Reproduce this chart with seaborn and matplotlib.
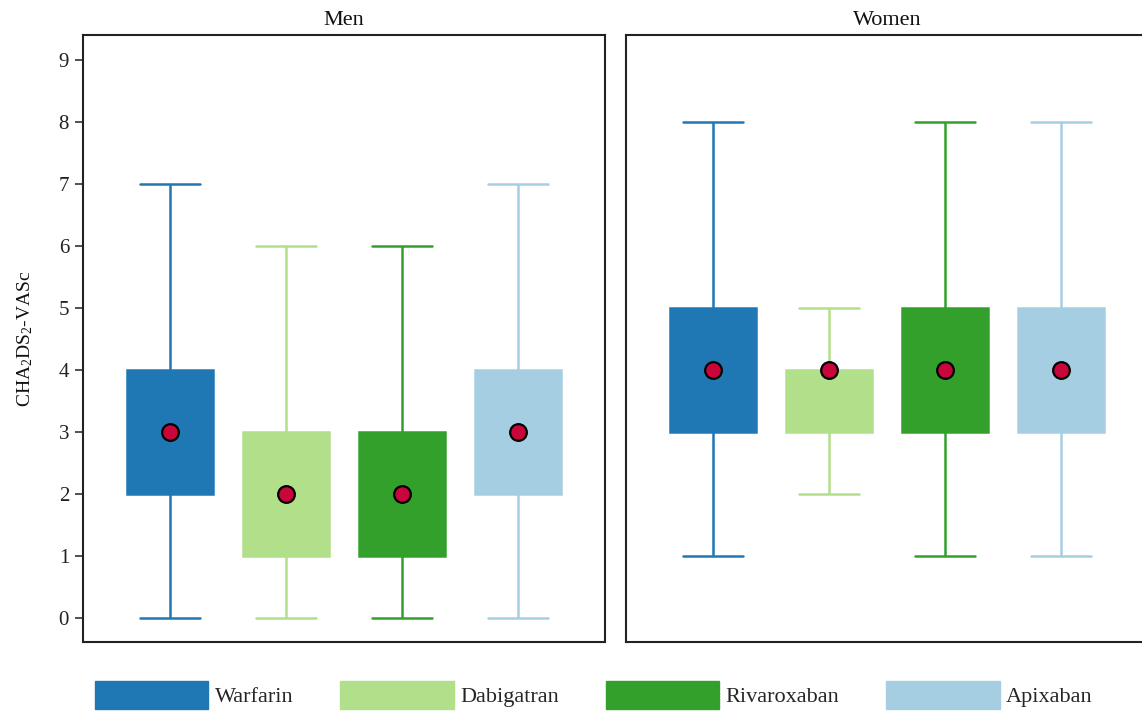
import numpy as np
import pandas as pd
import matplotlib
matplotlib.use("Agg")
import matplotlib.pyplot as plt
from matplotlib.patches import Patch
import seaborn as sns

# Five-number summaries (min, Q1, median, Q3, max) of CHA2DS2-VASc per drug
drugs = ["Warfarin", "Dabigatran", "Rivaroxaban", "Apixaban"]
men_summary = {
    "Warfarin":    [0, 2, 3, 4, 7],
    "Dabigatran":  [0, 1, 2, 3, 6],
    "Rivaroxaban": [0, 1, 2, 3, 6],
    "Apixaban":    [0, 2, 3, 4, 7],
}
women_summary = {
    "Warfarin":    [1, 3, 4, 5, 8],
    "Dabigatran":  [2, 3, 4, 4, 5],
    "Rivaroxaban": [1, 3, 4, 5, 8],
    "Apixaban":    [1, 3, 4, 5, 8],
}
panels = ["Men", "Women"]
yticks = list(range(0, 10))
colors = ["#1f78b4", "#b2df8a", "#33a02c", "#a6cee3"]
median_color = "#c8063a"

rows = []
for sex, summ in zip(panels, [men_summary, women_summary]):
    for drug in drugs:
        for v in summ[drug]:
            rows.append({"sex": sex, "drug": drug, "value": v})
df = pd.DataFrame(rows)

sns.set_theme(style="white")
plt.rcParams["font.family"] = ["Liberation Serif", "DejaVu Serif"]
plt.rcParams["mathtext.fontset"] = "custom"
plt.rcParams["mathtext.rm"] = "Liberation Serif"
plt.rcParams["mathtext.it"] = "Liberation Serif:italic"

W, H = 1142, 711
fig = plt.figure(figsize=(W / 100, H / 100), dpi=100)
ax_men = fig.add_axes([83 / W, (H - 642) / H, 522 / W, 607 / H])
ax_women = fig.add_axes([626 / W, (H - 642) / H, 522 / W, 607 / H])

CAP_HALF = 0.26

for ax, sex in zip([ax_men, ax_women], panels):
    sub = df[df["sex"] == sex]
    for drug, c in zip(drugs, colors):
        sns.boxplot(
            data=sub[sub["drug"] == drug], x="drug", y="value", order=drugs,
            color=c, linecolor=c, saturation=1, width=0.74, whis=(0, 100),
            showfliers=False, linewidth=1.8,
            medianprops={"visible": False}, ax=ax,
        )
    # widen the whisker caps
    for ln in ax.lines:
        xd, yd = np.asarray(ln.get_xdata(), float), np.asarray(ln.get_ydata(), float)
        if len(xd) == 2 and yd[0] == yd[1] and xd[0] != xd[1]:
            cx = xd.mean()
            ln.set_xdata([cx - CAP_HALF, cx + CAP_HALF])
    sns.pointplot(
        data=sub, x="drug", y="value", order=drugs, estimator="median",
        errorbar=None, linestyle="none", marker="o", color=median_color,
        markersize=12, markeredgecolor="black", markeredgewidth=1.6, ax=ax,
        zorder=5,
    )
    ax.set_xlim(-0.75, 3.75)
    ax.set_ylim(-0.39, 9.4)
    ax.set_xlabel("")
    ax.set_ylabel("")
    ax.set_xticks([])
    ax.set_title(sex, fontsize=16, pad=7, color="#111111")
    for s in ax.spines.values():
        s.set_visible(True)
        s.set_color("#222222")
        s.set_linewidth(1.5)

ax_men.set_yticks(yticks)
ax_men.tick_params(axis="y", left=True, length=6, width=1.2, color="#333333",
                   labelsize=15, labelcolor="#222222", pad=4)
ax_women.set_yticks([])
ax_men.set_ylabel(r"CHA$_2$DS$_2$-VASc", fontsize=14, color="#111111", labelpad=17)

handles = [Patch(facecolor=c, edgecolor=c) for c in colors]
fig.legend(handles, drugs, loc="lower center", bbox_to_anchor=(594 / W, -0.026),
           ncol=4, frameon=False, fontsize=16, handlelength=5.1, handleheight=1.6,
           handletextpad=0.3, columnspacing=2.1)

fig.savefig("out.png", dpi=100)
